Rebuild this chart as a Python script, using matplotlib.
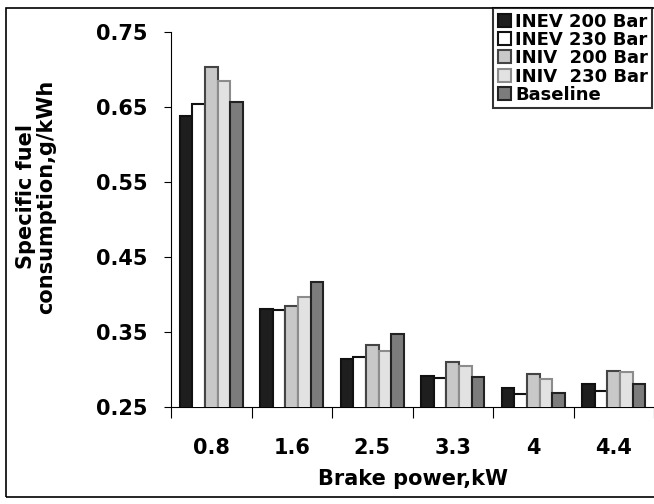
import numpy as np
import matplotlib.pyplot as plt
from matplotlib.patches import Rectangle

plt.rcParams['font.family'] = ['DejaVu Sans']
plt.rcParams['font.weight'] = 'bold'

# data
categories = ['0.8', '1.6', '2.5', '3.3', '4', '4.4']
series_names = ['INEV 200 Bar', 'INEV 230 Bar', 'INIV  200 Bar', 'INIV  230 Bar', 'Baseline']
inev_200 = [0.638, 0.381, 0.314, 0.291, 0.275, 0.281]
inev_230 = [0.654, 0.379, 0.316, 0.288, 0.267, 0.271]
iniv_200 = [0.703, 0.384, 0.332, 0.310, 0.294, 0.298]
iniv_230 = [0.685, 0.396, 0.325, 0.304, 0.287, 0.296]
baseline = [0.657, 0.417, 0.347, 0.290, 0.268, 0.281]
yticks = [0.25, 0.35, 0.45, 0.55, 0.65, 0.75]

series = [inev_200, inev_230, iniv_200, iniv_230, baseline]
fills = ['#1e1e1e', '#ffffff', '#c8c8c8', '#e2e2e2', '#7c7c7c']
edges = ['#111111', '#111111', '#444444', '#8c8c8c', '#222222']

fig = plt.figure(figsize=(6.54, 5.04), dpi=100)
ax = fig.add_axes([0.2615, 0.1925, 0.7385, 0.744])

x = np.arange(len(categories))
w = 0.156
for i, (vals, fc, ec, name) in enumerate(zip(series, fills, edges, series_names)):
    ax.bar(x + (i - 2) * w, vals, width=w, color=fc, edgecolor=ec,
           linewidth=1.5, label=name, zorder=3)

ax.set_xlim(-0.5, len(categories) - 0.5)
ax.set_ylim(0.25, 0.75)
ax.set_yticks(yticks)
ax.set_yticklabels([f'{v:.2f}' for v in yticks], fontsize=15, fontweight='bold')
ax.tick_params(axis='y', direction='out', length=5, width=0.8, pad=12)

# category boundaries as major ticks, labels on minor ticks
ax.set_xticks(np.arange(-0.5, len(categories), 1.0))
ax.set_xticklabels([])
ax.tick_params(axis='x', which='major', direction='out', length=8, width=0.8)
ax.set_xticks(x, minor=True)
ax.set_xticklabels(categories, minor=True, fontsize=15, fontweight='bold')
ax.tick_params(axis='x', which='minor', length=0, pad=22)

for side in ['top', 'right']:
    ax.spines[side].set_visible(False)
ax.spines['left'].set_linewidth(0.8)
ax.spines['bottom'].set_linewidth(0.8)

ax.set_xlabel('Brake power,kW', fontsize=15, fontweight='bold', labelpad=8)
ax.set_ylabel('Specific fuel\nconsumption,g/kWh', fontsize=15, fontweight='bold',
              va='center', linespacing=1.0)
ax.yaxis.set_label_coords(-0.279, 0.56)

leg = fig.legend(loc='upper left', bbox_to_anchor=(493 / 654, 1 - 8 / 504),
                 prop={'weight': 'bold', 'size': 13}, frameon=True, fancybox=False,
                 handlelength=0.72, handleheight=0.72, handletextpad=0.25,
                 labelspacing=0.02, borderpad=0.25, borderaxespad=0)
leg.get_frame().set_edgecolor('black')
leg.get_frame().set_linewidth(1.5)

# outer frame
fig.patches.append(Rectangle((6 / 654, 7 / 504), 1.0, 489 / 504, transform=fig.transFigure,
                             fill=False, edgecolor='black', linewidth=1.2))

fig.savefig('out.png', dpi=100)
